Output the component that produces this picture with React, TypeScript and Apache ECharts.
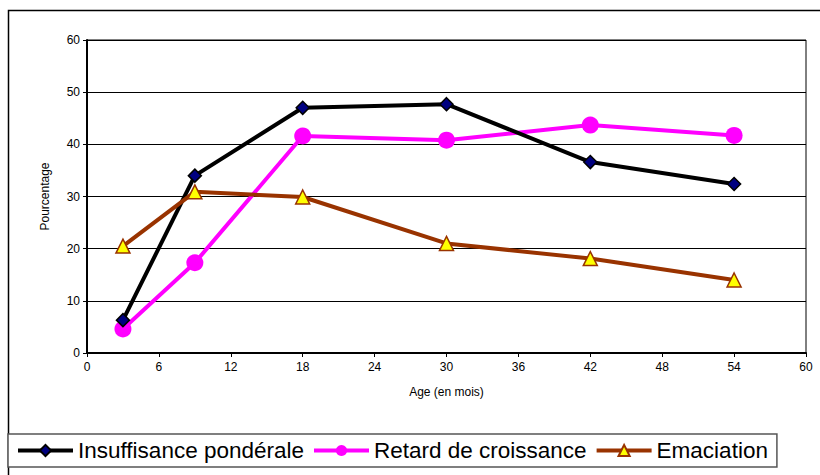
import React, { useEffect, useRef } from "react";
import * as echarts from "echarts";

const ages = [3, 9, 18, 30, 42, 54];
const insuffisance = [6.3, 34.0, 47.0, 47.7, 36.6, 32.4];
const retard = [4.6, 17.3, 41.6, 40.8, 43.7, 41.7];
const emaciation = [20.5, 30.9, 29.9, 21.0, 18.1, 14.0];
const seriesNames = ["Insuffisance pondérale", "Retard de croissance", "Emaciation"];

const FONT = "'Liberation Sans', Arial, sans-serif";

export default function App() {
  const ref = useRef<HTMLDivElement>(null);
  useEffect(() => {
    if (!ref.current) return;
    const chart = echarts.init(ref.current, undefined, { renderer: "svg" });
    const pair = (vals: number[]) => ages.map((a, i) => [a, vals[i]]);
    chart.setOption({
      animation: false,
      backgroundColor: "#ffffff",
      textStyle: { fontFamily: FONT },
      graphic: [
        {
          type: "rect",
          shape: { x: 8.5, y: 10.5, width: 900, height: 600 },
          style: { fill: "none", stroke: "#000", lineWidth: 1.5 },
          silent: true,
          z: -1,
        },
      ],
      grid: {
        left: 87,
        top: 40,
        right: 14,
        bottom: 122,
        show: true,
        borderColor: "#000",
        borderWidth: 1,
        backgroundColor: "transparent",
      },
      xAxis: {
        type: "value",
        min: 0,
        max: 60,
        interval: 6,
        name: "Age (en mois)",
        nameLocation: "middle",
        nameGap: 33,
        nameTextStyle: { fontSize: 12, color: "#000", fontFamily: FONT },
        axisLine: { show: true, onZero: false, lineStyle: { color: "#000", width: 2 } },
        axisTick: { show: true, length: 4, lineStyle: { color: "#000" } },
        axisLabel: { fontSize: 12, color: "#000", margin: 8, fontFamily: FONT },
        splitLine: { show: false },
      },
      yAxis: {
        type: "value",
        min: 0,
        max: 60,
        interval: 10,
        name: "Pourcentage",
        nameLocation: "middle",
        nameGap: 36,
        nameRotate: 90,
        nameTextStyle: { fontSize: 12, color: "#000", fontFamily: FONT },
        axisLine: { show: true, lineStyle: { color: "#000", width: 2 } },
        axisTick: { show: true, length: 4, lineStyle: { color: "#000" } },
        axisLabel: { fontSize: 12, color: "#000", margin: 7, fontFamily: FONT },
        splitLine: { show: true, lineStyle: { color: "#000", width: 1 } },
      },
      legend: {
        show: true,
        left: 8,
        top: 434,
        orient: "horizontal",
        backgroundColor: "#fff",
        borderColor: "#555",
        borderWidth: 1.5,
        borderRadius: 0,
        padding: [5, 9, 5, 8],
        itemGap: 8,
        itemWidth: 55,
        itemHeight: 14,
        lineStyle: { width: 4 },
        textStyle: { fontSize: 22.5, color: "#000", fontFamily: FONT },
        data: seriesNames,
      },
      series: [
        {
          name: seriesNames[0],
          type: "line",
          data: pair(insuffisance),
          symbol: "diamond",
          symbolSize: 13,
          lineStyle: { color: "#000", width: 4 },
          itemStyle: { color: "#000080", borderColor: "#000", borderWidth: 1.5 },
          z: 3,
        },
        {
          name: seriesNames[1],
          type: "line",
          data: pair(retard),
          symbol: "circle",
          symbolSize: 17,
          lineStyle: { color: "#ff00ff", width: 4 },
          itemStyle: { color: "#ff00ff", borderColor: "#ff00ff", borderWidth: 0 },
          z: 2,
        },
        {
          name: seriesNames[2],
          type: "line",
          data: pair(emaciation),
          symbol: "triangle",
          symbolSize: 14,
          lineStyle: { color: "#993300", width: 4 },
          itemStyle: { color: "#ffff00", borderColor: "#993300", borderWidth: 1.5 },
          z: 4,
        },
      ],
    });
    return () => chart.dispose();
  }, []);
  return (
    <div
      ref={ref}
      style={{ position: "fixed", left: 0, top: 0, width: 820, height: 475, background: "#fff" }}
    />
  );
}
